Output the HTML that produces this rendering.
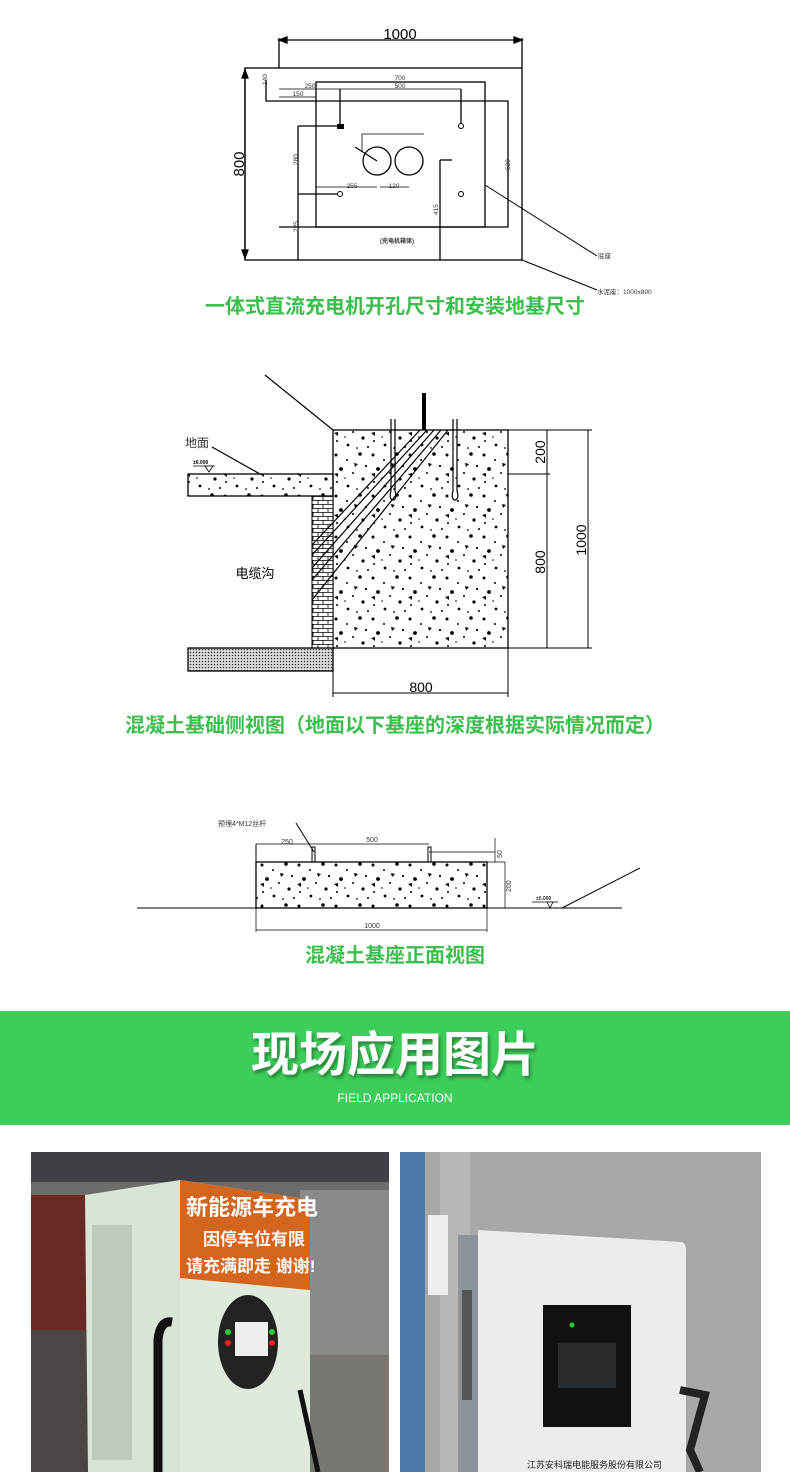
<!DOCTYPE html>
<html><head><meta charset="utf-8"><style>
html,body{margin:0;padding:0;background:#fff;}
body{width:790px;height:1472px;position:relative;overflow:hidden;font-family:"Liberation Sans","Noto Sans CJK SC",sans-serif;}
.cap{position:absolute;left:0;width:790px;text-align:center;color:#3dbe4e;font-weight:bold;font-size:20px;line-height:22px;font-family:"Liberation Sans","Noto Sans CJK SC",sans-serif;}
svg text{font-family:"Liberation Sans","Noto Sans CJK SC",sans-serif;}
</style></head><body>
<svg width="790" height="1010" style="position:absolute;left:0;top:0" xmlns="http://www.w3.org/2000/svg">
<defs>
<pattern id="sp" width="37" height="41" patternUnits="userSpaceOnUse">
<circle cx="3" cy="4" r="1.5" fill="#000"/><circle cx="14" cy="9" r="1" fill="#000"/><circle cx="27" cy="3" r="1.8" fill="#000"/>
<circle cx="33" cy="15" r="1.1" fill="#000"/><circle cx="8" cy="18" r="1.9" fill="#000"/><circle cx="20" cy="22" r="1" fill="#000"/>
<circle cx="30" cy="28" r="1.6" fill="#000"/><circle cx="4" cy="31" r="1" fill="#000"/><circle cx="15" cy="35" r="1.4" fill="#000"/>
<circle cx="24" cy="38" r="0.9" fill="#000"/><circle cx="35" cy="37" r="1" fill="#000"/><circle cx="12" cy="27" r="0.8" fill="#000"/>
<path d="M21 12 l4 1 -3 3z" fill="#000"/><path d="M1 23 l4 -1 0 4z" fill="#000"/>
</pattern>
<pattern id="br" width="10" height="8" patternUnits="userSpaceOnUse">
<rect width="10" height="8" fill="#fff"/><path d="M0 0.5H10M0 4.5H10M3 0V4.5M8 4.5V8" stroke="#000" stroke-width="0.8"/>
</pattern>
<pattern id="hx" width="3" height="3" patternUnits="userSpaceOnUse"><rect width="3" height="3" fill="#ddd"/><circle cx="1.5" cy="1.5" r="0.8" fill="#333"/></pattern>
</defs>
<g stroke="#000" fill="none" stroke-width="1.3">
<line x1="279" y1="40" x2="522" y2="40"/><path d="M279 40l8-3v6z M522 40l-8-3v6z" fill="#000"/>
<line x1="279" y1="38" x2="279" y2="68"/><line x1="522" y1="38" x2="522" y2="68"/>
<rect x="245" y="68" width="277" height="192"/>
<line x1="245" y1="68" x2="245" y2="260"/><path d="M245 70l-3 8h6z M245 258l-3-8h6z" fill="#000"/>
<rect x="316" y="82" width="169" height="145"/>
<polyline points="266,80 266,101 508,101 508,227 279,227"/>
<line x1="298" y1="126" x2="298" y2="260"/><line x1="298" y1="126" x2="340" y2="126"/><line x1="298" y1="194" x2="340" y2="194"/>
<line x1="440" y1="160" x2="440" y2="260"/><line x1="440" y1="160" x2="452" y2="160"/>
<line x1="340" y1="89" x2="340" y2="124"/><line x1="461" y1="89" x2="461" y2="124"/>
<line x1="279" y1="89" x2="461" y2="89" stroke-width="0.7"/><line x1="279" y1="97" x2="316" y2="97" stroke-width="0.7"/>
<line x1="316" y1="82" x2="485" y2="82" stroke-width="0.7"/>
<circle cx="377" cy="161" r="14"/><circle cx="409" cy="161" r="14"/>
<polyline points="362,134 362,152 M377,134 377,175 M393,134 393,175 M424,134 424,152" stroke-width="0.8"/>
<line x1="362" y1="134" x2="424" y2="134" stroke-width="0.8"/>
<line x1="316" y1="187" x2="377" y2="187" stroke-width="0.8"/><line x1="380" y1="187" x2="409" y2="187" stroke-width="0.8"/>
<line x1="355" y1="147" x2="377" y2="161"/>
<line x1="485" y1="185" x2="597" y2="256" stroke-width="1"/><line x1="522" y1="260" x2="597" y2="290" stroke-width="1"/>
</g>
<rect x="337" y="124" width="7" height="5" fill="#000"/>
<circle cx="461" cy="126" r="2.5" fill="#fff" stroke="#000"/><circle cx="340" cy="194" r="2.5" fill="#fff" stroke="#000"/><circle cx="461" cy="194" r="2.5" fill="#fff" stroke="#000"/>
<text x="400" y="39" font-size="15" text-anchor="middle">1000</text>
<text x="244" y="164" font-size="15" text-anchor="middle" transform="rotate(-90 244 164)">800</text>
<g font-size="6.5" fill="#333">
<text x="400" y="80" text-anchor="middle">700</text><text x="400" y="88" text-anchor="middle">500</text>
<text x="310" y="88" text-anchor="middle">250</text><text x="298" y="96" text-anchor="middle">150</text>
<text x="352" y="188" text-anchor="middle">255</text><text x="394" y="188" text-anchor="middle">120</text>
<text x="267" y="85" transform="rotate(-90 267 85)">140</text>
<text x="298" y="165" transform="rotate(-90 298 165)">280</text>
<text x="298" y="232" transform="rotate(-90 298 232)">225</text>
<text x="438" y="215" transform="rotate(-90 438 215)">415</text>
<text x="510" y="170" transform="rotate(-90 510 170)">520</text>
<text x="397" y="243" text-anchor="middle" font-weight="bold" font-size="6">(充电机箱体)</text>
<text x="598" y="258">底座</text><text x="597" y="294">水泥座：1000x800</text>
</g>
<rect x="333" y="430" width="175" height="218" fill="url(#sp)" stroke="#000" stroke-width="1.3"/>
<rect x="188" y="474" width="145" height="22" fill="url(#sp)" stroke="#000" stroke-width="1.3"/>
<rect x="312" y="496" width="21" height="152" fill="url(#br)" stroke="#000" stroke-width="1"/>
<rect x="188" y="648" width="145" height="23" fill="url(#hx)" stroke="#000" stroke-width="1.3"/>
<g stroke="#000" stroke-width="1.2" fill="none">
<path d="M420 430 L312 545 M427 430 L312 555 M434 430 L312 568 M441 430 L312 580 M448 430 L312 600"/>
<path d="M391 419v72 M395 419v72 M453 419v72 M457 419v72"/>
<path d="M391 491c-4 12 8 12 4 0 M453 491c-4 12 8 12 4 0"/>
<line x1="265" y1="375" x2="333" y2="430"/>
<line x1="212" y1="447" x2="260" y2="474"/>
<line x1="508" y1="430" x2="592" y2="430" stroke-width="1"/><line x1="508" y1="474" x2="550" y2="474" stroke-width="1"/>
<line x1="508" y1="648" x2="592" y2="648" stroke-width="1"/>
<line x1="547" y1="430" x2="547" y2="648" stroke-width="1"/><line x1="588" y1="430" x2="588" y2="648" stroke-width="1"/>
<line x1="333" y1="648" x2="333" y2="697" stroke-width="1"/><line x1="508" y1="648" x2="508" y2="697" stroke-width="1"/>
<line x1="333" y1="693" x2="508" y2="693" stroke-width="1"/>
<line x1="193" y1="466" x2="215" y2="466" stroke-width="0.8"/>
</g>
<rect x="422" y="393" width="4" height="37" fill="#000"/>
<path d="M205 466l4 6 4-6z" fill="#fff" stroke="#000" stroke-width="0.8"/>
<text x="185" y="447" font-size="12" fill="#333">地面</text>
<text x="193" y="464" font-size="5" font-weight="bold">±0.000</text>
<text x="255" y="578" font-size="13" text-anchor="middle">电缆沟</text>
<text x="545" y="452" font-size="14" text-anchor="middle" transform="rotate(-90 545 452)">200</text>
<text x="545" y="562" font-size="14" text-anchor="middle" transform="rotate(-90 545 562)">800</text>
<text x="586" y="540" font-size="14" text-anchor="middle" transform="rotate(-90 586 540)">1000</text>
<text x="421" y="692" font-size="14" text-anchor="middle">800</text>
<rect x="256" y="862" width="231" height="46" fill="url(#sp)" stroke="#000" stroke-width="1.3"/>
<g stroke="#000" stroke-width="1" fill="none">
<line x1="137" y1="908" x2="622" y2="908"/>
<line x1="256" y1="844" x2="429" y2="844" stroke-width="0.7"/><line x1="256" y1="844" x2="256" y2="862"/>
<line x1="429" y1="852" x2="495" y2="852" stroke-width="0.7"/>
<line x1="495" y1="838" x2="495" y2="862" stroke-width="0.7"/><line x1="487" y1="862" x2="505" y2="862" stroke-width="0.7"/>
<line x1="505" y1="862" x2="505" y2="908" stroke-width="0.7"/>
<path d="M312 862v-15h3v15 M428 862v-15h3v15"/>
<line x1="296" y1="823" x2="314" y2="852"/>
<line x1="256" y1="908" x2="256" y2="932" stroke-width="0.7"/><line x1="487" y1="908" x2="487" y2="932" stroke-width="0.7"/>
<line x1="256" y1="930" x2="487" y2="930" stroke-width="0.7"/>
<line x1="532" y1="902" x2="558" y2="902" stroke-width="0.8"/>
<line x1="562" y1="908" x2="640" y2="868"/>
</g>
<path d="M547 902l3 6 3-6z" fill="#fff" stroke="#000" stroke-width="0.8"/>
<g font-size="7" fill="#333">
<text x="218" y="826">预埋4*M12丝杆</text>
<text x="287" y="844" text-anchor="middle">250</text><text x="372" y="842" text-anchor="middle">500</text>
<text x="372" y="928" text-anchor="middle">1000</text>
<text x="502" y="858" transform="rotate(-90 502 858)">50</text>
<text x="511" y="892" transform="rotate(-90 511 892)">200</text>
<text x="536" y="900" font-size="5" font-weight="bold">±0.000</text>
</g>
</svg>
<div class="cap" style="top:296px">一体式直流充电机开孔尺寸和安装地基尺寸</div>
<div class="cap" style="top:715px">混凝土基础侧视图（地面以下基座的深度根据实际情况而定）</div>
<div class="cap" style="top:945px">混凝土基座正面视图</div>
<div style="position:absolute;left:0;top:1011px;width:790px;height:114px;background:#3ecd5a;"></div>
<div style="position:absolute;left:0;top:1028px;width:790px;text-align:center;color:#fff;font-size:48px;line-height:56px;font-weight:bold;text-shadow:2px 3px 3px rgba(0,0,0,0.35);font-family:'Liberation Sans','Noto Sans CJK SC',sans-serif;">现场应用图片</div>
<div style="position:absolute;left:0;top:1091px;width:790px;text-align:center;color:#fff;font-size:12px;">FIELD APPLICATION</div>
<svg width="790" height="322" style="position:absolute;left:0;top:1150px" xmlns="http://www.w3.org/2000/svg">
<rect x="31" y="2" width="358" height="320" fill="#6e6c6a"/>
<rect x="31" y="2" width="358" height="30" fill="#3f3f45"/>
<rect x="31" y="45" width="55" height="135" fill="#6a2a24"/>
<rect x="31" y="180" width="60" height="142" fill="#4b4644"/>
<rect x="300" y="40" width="89" height="165" fill="#8a8a88"/>
<rect x="300" y="205" width="89" height="117" fill="#7a7672"/>
<path d="M85 45 L180 30 L180 322 L88 322z" fill="#d7e4d6"/>
<rect x="92" y="75" width="40" height="235" fill="#bfcbbd"/>
<path d="M180 30 L300 48 Q310 50 310 65 L310 322 L180 322z" fill="#dfeadd"/>
<path d="M180 30 L300 48 Q310 50 310 65 L310 140 L180 128z" fill="#d4651f"/>
<text x="186" y="65" font-size="22" font-weight="bold" fill="#fff">新能源车充电</text>
<text x="203" y="95" font-size="17" font-weight="bold" fill="#fff">因停车位有限</text>
<text x="186" y="122" font-size="17" font-weight="bold" fill="#fff">请充满即走 谢谢!</text>
<ellipse cx="248" cy="192" rx="30" ry="47" fill="#222"/>
<rect x="235" y="172" width="33" height="34" fill="#eee"/>
<circle cx="228" cy="182" r="3" fill="#2c3"/><circle cx="272" cy="182" r="3" fill="#2c3"/>
<circle cx="228" cy="193" r="3" fill="#e22"/><circle cx="272" cy="193" r="3" fill="#e22"/>
<path d="M158 322 L158 190 Q160 170 172 172" stroke="#111" stroke-width="9" fill="none"/>
<path d="M300 240 L318 322" stroke="#111" stroke-width="5"/>
<rect x="400" y="2" width="361" height="320" fill="#a8a8a6"/>
<rect x="400" y="2" width="25" height="320" fill="#4c79a8"/>
<rect x="440" y="2" width="30" height="320" fill="#b8b8b5"/>
<rect x="428" y="65" width="20" height="80" fill="#eee"/>
<rect x="458" y="85" width="22" height="237" fill="#8c939a"/>
<rect x="462" y="140" width="10" height="110" fill="#555"/>
<path d="M478 80 L682 92 Q686 94 686 100 L686 322 L478 322z" fill="#ecedea"/>
<rect x="543" y="155" width="88" height="122" fill="#111"/>
<rect x="558" y="193" width="58" height="45" fill="#2a2d30"/>
<circle cx="572" cy="175" r="2.5" fill="#2c3"/>
<path d="M680 240 L705 245 L690 300 L700 322" stroke="#222" stroke-width="8" fill="none"/>
<text x="527" y="318" font-size="9" fill="#222">江苏安科瑞电能服务股份有限公司</text>
</svg>
</body></html>
